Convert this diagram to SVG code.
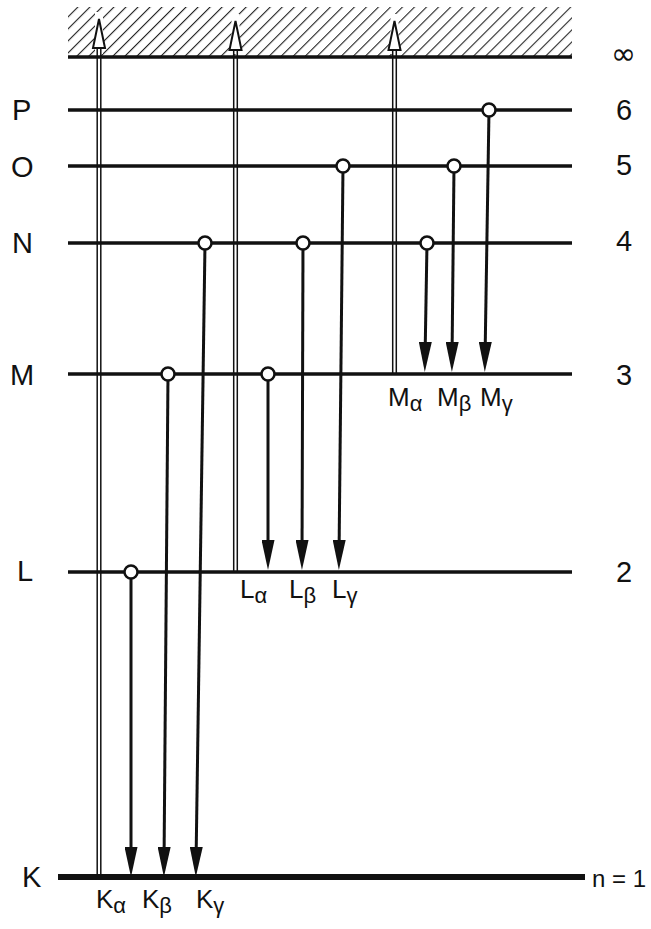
<svg xmlns="http://www.w3.org/2000/svg" width="651" height="929" viewBox="0 0 651 929">
<style>
.lvl{stroke:#111;stroke-width:3.5;fill:none}
.arr{stroke:#111;stroke-width:3;fill:none}
.dbl{stroke:#111;stroke-width:1.5;fill:none}
.halo{stroke:#fff;stroke-width:8;fill:none}
.dot{fill:#fff;stroke:#111;stroke-width:2.5}
.head2{fill:#fff;stroke:#111;stroke-width:2}
text{font-family:"Liberation Sans",Arial,sans-serif;fill:#111}
.big{font-size:29px}
.sub{font-size:22px}
.lab{font-size:26px}
</style>
<defs>
<pattern id="hatch" patternUnits="userSpaceOnUse" width="8.5" height="8.5" patternTransform="rotate(45)">
<line x1="0" y1="0" x2="0" y2="8.5" stroke="#222" stroke-width="2.2"/>
</pattern>
<marker id="ah" markerUnits="userSpaceOnUse" viewBox="0 0 30 13" markerWidth="30" markerHeight="13" refX="18" refY="6.5" orient="auto">
<path d="M0,0 L30,6.5 L0,13 z" fill="#111"/>
</marker>
</defs>
<rect width="651" height="929" fill="#fff"/>
<g id="hatch-area">
<rect x="68" y="7" width="504" height="49" fill="url(#hatch)"/>
</g>
<g id="levels">
<line class="lvl" x1="68" y1="57" x2="572" y2="57"/>
<line class="lvl" x1="68" y1="110" x2="572" y2="110"/>
<line class="lvl" x1="68" y1="166" x2="572" y2="166"/>
<line class="lvl" x1="68" y1="243" x2="572" y2="243"/>
<line class="lvl" x1="68" y1="374" x2="572" y2="374"/>
<line class="lvl" x1="68" y1="572" x2="572" y2="572"/>
<line class="lvl" x1="58" y1="877" x2="585" y2="877" style="stroke-width:6"/>
</g>
<g id="connectors">
<line class="halo" x1="99" y1="12" x2="99" y2="54"/>
<line class="halo" x1="235.5" y1="14" x2="235.5" y2="54"/>
<line class="halo" x1="394.5" y1="14" x2="394.5" y2="54"/>
<line class="dbl" x1="97.2" y1="877" x2="97.2" y2="46"/>
<line class="dbl" x1="100.8" y1="877" x2="100.8" y2="46"/>
<path class="head2" d="M99,19 L105,48 L93,48 z"/>
<line class="dbl" x1="233.7" y1="572" x2="233.7" y2="48"/>
<line class="dbl" x1="237.3" y1="572" x2="237.3" y2="48"/>
<path class="head2" d="M235.5,21 L241.5,50 L229.5,50 z"/>
<line class="dbl" x1="392.7" y1="374" x2="392.7" y2="48"/>
<line class="dbl" x1="396.3" y1="374" x2="396.3" y2="48"/>
<path class="head2" d="M394.5,21 L400.5,50 L388.5,50 z"/>
<line class="arr" x1="131" y1="572" x2="131" y2="865" marker-end="url(#ah)"/>
<line class="arr" x1="168" y1="374" x2="164" y2="865" marker-end="url(#ah)"/>
<line class="arr" x1="205" y1="243" x2="196" y2="865" marker-end="url(#ah)"/>
<line class="arr" x1="268" y1="374" x2="268" y2="558" marker-end="url(#ah)"/>
<line class="arr" x1="303" y1="243" x2="302" y2="558" marker-end="url(#ah)"/>
<line class="arr" x1="343" y1="166" x2="339" y2="558" marker-end="url(#ah)"/>
<line class="arr" x1="427" y1="243" x2="425" y2="360" marker-end="url(#ah)"/>
<line class="arr" x1="454" y1="166" x2="452" y2="360" marker-end="url(#ah)"/>
<line class="arr" x1="489" y1="110" x2="485" y2="360" marker-end="url(#ah)"/>
</g>
<g id="circles">
<circle class="dot" cx="131" cy="572" r="6.5"/>
<circle class="dot" cx="168" cy="374" r="6.5"/>
<circle class="dot" cx="268" cy="374" r="6.5"/>
<circle class="dot" cx="205" cy="243" r="6.5"/>
<circle class="dot" cx="303" cy="243" r="6.5"/>
<circle class="dot" cx="427" cy="243" r="6.5"/>
<circle class="dot" cx="343" cy="166" r="6.5"/>
<circle class="dot" cx="454" cy="166" r="6.5"/>
<circle class="dot" cx="489" cy="110" r="6.5"/>
</g>
<g id="shell-labels">
<text class="big" x="12" y="120">P</text>
<text class="big" x="11" y="177">O</text>
<text class="big" x="12" y="253">N</text>
<text class="big" x="10" y="385">M</text>
<text class="big" x="17" y="581">L</text>
<text class="big" x="22" y="887">K</text>
</g>
<g id="n-labels">
<text x="611" y="64" style="font-family:'DejaVu Sans',sans-serif;font-size:30px">∞</text>
<text class="big" x="616" y="120">6</text>
<text class="big" x="616" y="175">5</text>
<text class="big" x="616" y="251">4</text>
<text class="big" x="616" y="385">3</text>
<text class="big" x="616" y="582">2</text>
<text x="592" y="887" style="font-size:24px">n = 1</text>
</g>
<g id="line-labels">
<text class="lab" x="96" y="908">K<tspan class="sub" dy="5">α</tspan></text>
<text class="lab" x="142" y="908">K<tspan class="sub" dy="5">β</tspan></text>
<text class="lab" x="196" y="908">K<tspan class="sub" dy="5">γ</tspan></text>
<text class="lab" x="240" y="598">L<tspan class="sub" dy="5">α</tspan></text>
<text class="lab" x="289" y="598">L<tspan class="sub" dy="5">β</tspan></text>
<text class="lab" x="332" y="598">L<tspan class="sub" dy="5">γ</tspan></text>
<text class="lab" x="388" y="406">M<tspan class="sub" dy="5">α</tspan></text>
<text class="lab" x="437" y="406">M<tspan class="sub" dy="5">β</tspan></text>
<text class="lab" x="480" y="406">M<tspan class="sub" dy="5">γ</tspan></text>
</g>
</svg>
